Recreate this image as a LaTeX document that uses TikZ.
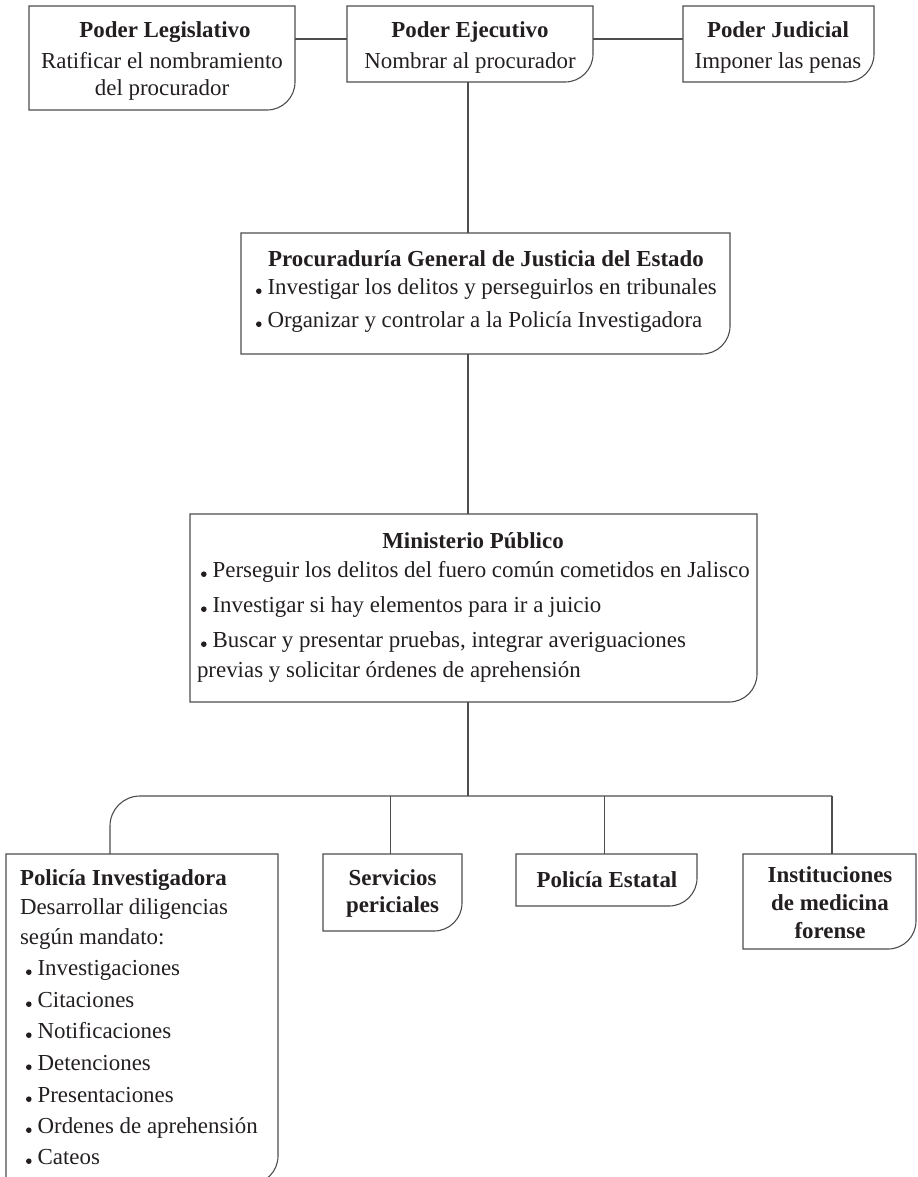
\documentclass[tikz,border=0pt]{standalone}
\usepackage{fontspec}
\setmainfont{Liberation Serif}
\definecolor{lncol}{HTML}{4D4D4D}
\definecolor{ink}{HTML}{231F20}
\tikzset{
  bx/.style={rectangle, inner sep=0pt, outer sep=0pt, anchor=north west},
  edge/.style={draw=lncol, line width=1.1bp},
  txt/.style={inner sep=0pt, outer sep=0pt, anchor=base, text=ink, font=\fontsize{23}{27}\selectfont},
  txtl/.style={txt, anchor=base west},
}
\newcommand\obox[1]{\draw[edge] (#1.north west) -- (#1.north east) -- ([yshift=28bp]#1.south east) .. controls ([yshift=12.5bp]#1.south east) and ([xshift=-12.5bp]#1.south east) .. ([xshift=-28bp]#1.south east) -- (#1.south west) -- cycle;}
\newcommand\bul{\tikz[baseline=0pt]\fill[ink] (0bp,2.8bp) circle[radius=2.8bp];\hspace{6bp}}
\begin{document}
\begin{tikzpicture}[x=1bp,y=-1bp]
\useasboundingbox (0,0) rectangle (918,1177);
\clip (0,0) rectangle (918,1177);
% boxes
\node[bx, minimum width=266bp, minimum height=104bp] (leg) at (29,6) {};
\node[bx, minimum width=246bp, minimum height=76bp] (eje) at (347,6) {};
\node[bx, minimum width=191bp, minimum height=76bp] (jud) at (683,6) {};
\node[bx, minimum width=489bp, minimum height=121bp] (pg) at (241,233) {};
\node[bx, minimum width=567bp, minimum height=188bp] (mp) at (190,514) {};
\node[bx, minimum width=272bp, minimum height=330bp] (pi) at (6,854) {};
\node[bx, minimum width=139bp, minimum height=77bp] (sp) at (323,854) {};
\node[bx, minimum width=181bp, minimum height=52bp] (pe) at (516,854) {};
\node[bx, minimum width=173bp, minimum height=95bp] (imf) at (743,854) {};
\foreach \b in {leg,eje,jud,pg,mp,pi,sp,pe,imf}{\obox{\b}}
% connectors
\draw[edge] ([yshift=-33bp]leg.north east) -- ([yshift=-33bp]eje.north west);
\draw[edge] ([yshift=-33bp]eje.north east) -- ([yshift=-33bp]jud.north west);
\coordinate (bus) at (468,796);
\coordinate (busR) at (832,796);
\draw[edge] ([xshift=-2bp]eje.south) -- ([xshift=-2bp]eje.south |- pg.north);
\draw[edge] ([xshift=-2bp]eje.south |- pg.south) -- ([xshift=-2bp]eje.south |- mp.north);
\draw[edge] ([xshift=-2bp]eje.south |- mp.south) -- ([xshift=-2bp]eje.south |- bus);
\draw[edge, rounded corners=30bp] ([xshift=104bp]pi.north west) |- (busR);
\draw[edge] (busR) -- (busR |- imf.north);
\draw[edge] ([xshift=-2bp]sp.north) -- ([xshift=-2bp]sp.north |- bus);
\draw[edge] ([xshift=-2bp]pe.north) -- ([xshift=-2bp]pe.north |- bus);
% texts
\node[txt] (legt) at (165,37) {\textbf{Poder Legislativo}};
\node[txt] (legd1) at (162,68) {Ratificar el nombramiento};
\node[txt] (legd2) at (162,95) {del procurador};
\node[txt] (ejet) at (470,37) {\textbf{Poder Ejecutivo}};
\node[txt] (ejed) at (470,68) {Nombrar al procurador};
\node[txt] (judt) at (778,37) {\textbf{Poder Judicial}};
\node[txt] (judd) at (778,68) {Imponer las penas};
\node[txt] (pgt) at (486,266) {\textbf{Procuraduría General de Justicia del Estado}};
\node[txtl] (pg1) at (256,294) {\bul Investigar los delitos y perseguirlos en tribunales};
\node[txtl] (pg2) at (256,327) {\bul Organizar y controlar a la Policía Investigadora};
\node[txt] (mpt) at (473,548) {\textbf{Ministerio Público}};
\node[txtl] (mp1) at (201,577) {\bul Perseguir los delitos del fuero común cometidos en Jalisco};
\node[txtl] (mp2) at (201,612) {\bul Investigar si hay elementos para ir a juicio};
\node[txtl] (mp3) at (201,647) {\bul Buscar y presentar pruebas, integrar averiguaciones};
\node[txtl] (mp4) at (197,677) {previas y solicitar órdenes de aprehensión};
\node[txtl] (pit) at (20,885) {\textbf{Policía Investigadora}};
\node[txtl] (pid1) at (20,914) {Desarrollar diligencias};
\node[txtl] (pid2) at (20,944) {según mandato:};
\node[txtl] (pib1) at (26,975) {\bul Investigaciones};
\node[txtl] (pib2) at (26,1007) {\bul Citaciones};
\node[txtl] (pib3) at (26,1038) {\bul Notificaciones};
\node[txtl] (pib4) at (26,1070) {\bul Detenciones};
\node[txtl] (pib5) at (26,1102) {\bul Presentaciones};
\node[txtl] (pib6) at (26,1133) {\bul Ordenes de aprehensión};
\node[txtl] (pib7) at (26,1164) {\bul Cateos};
\node[txt] (spt1) at (392.5,885) {\textbf{Servicios}};
\node[txt] (spt2) at (392.5,912) {\textbf{periciales}};
\node[txt] (pet) at (607,887) {\textbf{Policía Estatal}};
\node[txt] (imft1) at (830,882) {\textbf{Instituciones}};
\node[txt] (imft2) at (830,910) {\textbf{de medicina}};
\node[txt] (imft3) at (830,938) {\textbf{forense}};
\end{tikzpicture}
\end{document}
